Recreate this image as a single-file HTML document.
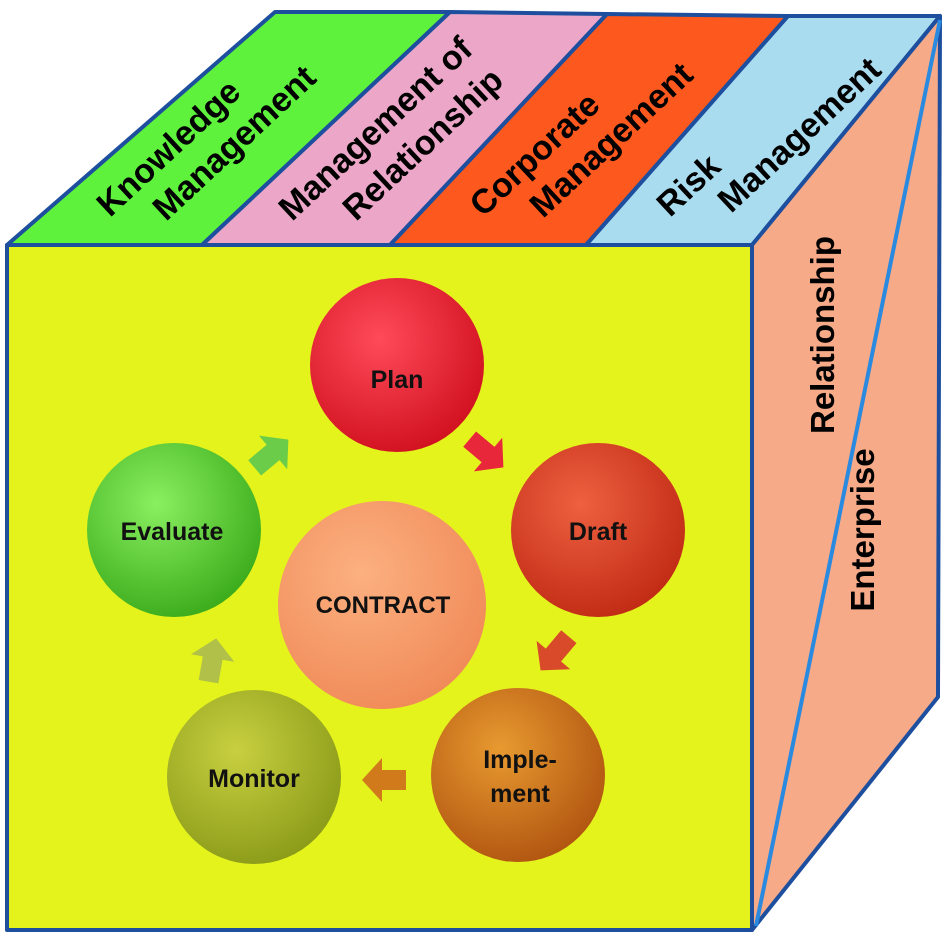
<!DOCTYPE html>
<html><head><style>
body{margin:0;background:#fff;}
svg{display:block;font-family:"Liberation Sans",Arial,sans-serif;font-weight:bold;}
</style></head><body>
<svg width="945" height="940" viewBox="0 0 945 940">
<defs>
<radialGradient id="gPlan" cx="40%" cy="35%" r="70%"><stop offset="0" stop-color="#ff4a5a"/><stop offset="1" stop-color="#d0101e"/></radialGradient>
<radialGradient id="gDraft" cx="40%" cy="35%" r="70%"><stop offset="0" stop-color="#ee6040"/><stop offset="1" stop-color="#c02a14"/></radialGradient>
<radialGradient id="gImpl" cx="40%" cy="35%" r="70%"><stop offset="0" stop-color="#e89a30"/><stop offset="1" stop-color="#b05410"/></radialGradient>
<radialGradient id="gMon" cx="40%" cy="35%" r="70%"><stop offset="0" stop-color="#c8d040"/><stop offset="1" stop-color="#8a9a18"/></radialGradient>
<radialGradient id="gEval" cx="40%" cy="35%" r="70%"><stop offset="0" stop-color="#8af060"/><stop offset="1" stop-color="#3aaa1a"/></radialGradient>
<radialGradient id="gCon" cx="40%" cy="35%" r="70%"><stop offset="0" stop-color="#fcb080"/><stop offset="1" stop-color="#f08a58"/></radialGradient>
</defs>
<g stroke="#1d4f9e" stroke-width="4" stroke-linejoin="round">
<polygon points="275,12 450,12 202,245 7,245" fill="#5ef23c"/>
<polygon points="450,12 607,14 390,245 202,245" fill="#eba6c8"/>
<polygon points="607,14 788,16 586,245 390,245" fill="#fd581e"/>
<polygon points="788,16 940,16 752,245 586,245" fill="#a9dcef"/>
<polygon points="940,16 938,697 752,930 752,245" fill="#f6aa88"/>
<rect x="7" y="245" width="745" height="685" fill="#e4f31c"/>
</g>
<line x1="756" y1="926" x2="940" y2="20" stroke="#2a8ae0" stroke-width="4"/>
<g font-size="34" fill="#000">
<text transform="translate(110,218) rotate(-43)">Knowledge</text>
<text transform="translate(166,222) rotate(-43)">Management</text>
<text transform="translate(292,222) rotate(-43)">Management of</text>
<text transform="translate(356,222) rotate(-43)">Relationship</text>
<text transform="translate(483,218) rotate(-43)">Corporate</text>
<text transform="translate(543,219) rotate(-43)">Management</text>
<text transform="translate(670,218) rotate(-43)">Risk</text>
<text transform="translate(731,214) rotate(-43)">Management</text>
</g>
<g font-size="33" fill="#000" text-anchor="middle">
<text transform="translate(834,335) rotate(-90)">Relationship</text>
<text transform="translate(874,530) rotate(-90)">Enterprise</text>
</g>
<g>
<circle cx="397" cy="365" r="87" fill="url(#gPlan)"/>
<circle cx="598" cy="530" r="87" fill="url(#gDraft)"/>
<circle cx="518" cy="775" r="87" fill="url(#gImpl)"/>
<circle cx="254" cy="777" r="87" fill="url(#gMon)"/>
<circle cx="174" cy="530" r="87" fill="url(#gEval)"/>
<circle cx="382" cy="605" r="104" fill="url(#gCon)"/>
</g>
<g>
<polygon points="-20,-10 4,-10 4,-22 24,0 4,22 4,10 -20,10" fill="#e8283a" transform="translate(485,452) rotate(40)"/>
<polygon points="-20,-10 4,-10 4,-22 24,0 4,22 4,10 -20,10" fill="#d84a2a" transform="translate(556,652) rotate(130)"/>
<polygon points="-20,-10 4,-10 4,-22 24,0 4,22 4,10 -20,10" fill="#d07a1c" transform="translate(386,780) rotate(180)"/>
<polygon points="-20,-10 4,-10 4,-22 24,0 4,22 4,10 -20,10" fill="#b0c048" transform="translate(212,662) rotate(-80)"/>
<polygon points="-20,-10 4,-10 4,-22 24,0 4,22 4,10 -20,10" fill="#6acc48" transform="translate(270,455) rotate(-40)"/>
</g>
<g font-size="25" fill="#111" text-anchor="middle">
<text x="397" y="388">Plan</text>
<text x="598" y="540">Draft</text>
<text x="520" y="768">Imple-</text>
<text x="520" y="802">ment</text>
<text x="254" y="787">Monitor</text>
<text x="172" y="540">Evaluate</text>
<text x="383" y="613" font-size="24">CONTRACT</text>
</g>
</svg>
</body></html>
